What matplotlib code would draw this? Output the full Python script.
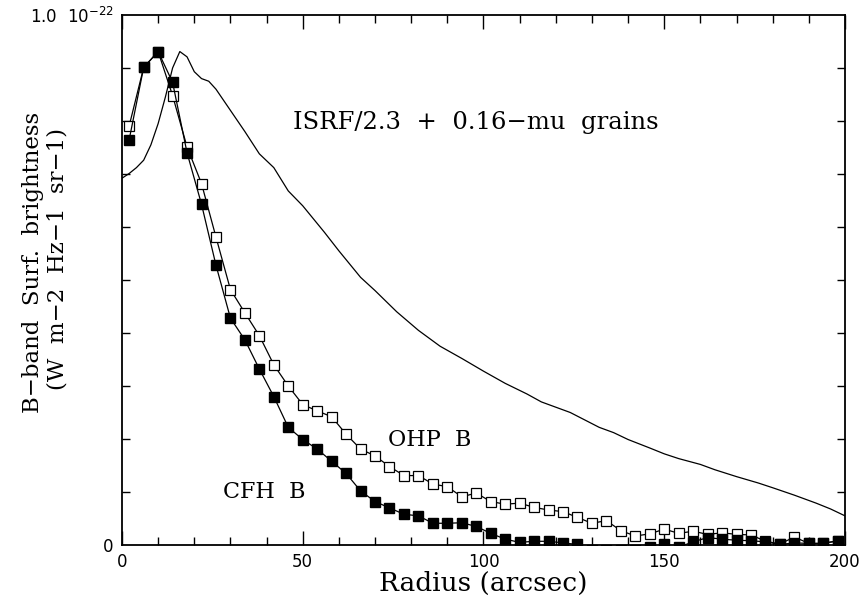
import matplotlib
matplotlib.use("Agg")
import matplotlib.pyplot as plt
from matplotlib.ticker import MultipleLocator

# radius (arcsec) and B-band surface brightness in units of 1e-22 W m-2 Hz-1 sr-1
radius = [2, 6, 10, 14, 18, 22, 26, 30, 34, 38, 42, 46, 50, 54, 58, 62, 66, 70, 74, 78,
          82, 86, 90, 94, 98, 102, 106, 110, 114, 118, 122, 126, 130, 134, 138, 142, 146,
          150, 154, 158, 162, 166, 170, 174, 178, 182, 186, 190, 194, 198]

cfh_b = [0.765, 0.901, 0.931, 0.873, 0.740, 0.643, 0.528, 0.428, 0.387, 0.332, 0.280,
         0.222, 0.199, 0.181, 0.158, 0.135, 0.102, 0.082, 0.070, 0.058, 0.055, 0.041,
         0.041, 0.042, 0.035, 0.022, 0.011, 0.005, 0.007, 0.007, 0.004, 0.001, -0.010,
         -0.010, -0.010, -0.010, -0.004, 0.001, -0.004, 0.006, 0.014, 0.011, 0.009,
         0.008, 0.006, 0.001, 0.004, 0.003, 0.003, 0.008]

ohp_b = [0.791, 0.901, 0.931, 0.848, 0.751, 0.682, 0.581, 0.482, 0.438, 0.395, 0.340,
         0.300, 0.265, 0.253, 0.242, 0.209, 0.181, 0.168, 0.148, 0.131, 0.131, 0.115,
         0.110, 0.091, 0.098, 0.082, 0.077, 0.079, 0.071, 0.066, 0.063, 0.052, 0.041,
         0.046, 0.027, 0.017, 0.021, 0.030, 0.022, 0.026, 0.020, 0.023, 0.020, 0.019,
         0.007, 0.002, 0.015, 0.003, 0.003, 0.008]

# model: ISRF/2.3 + 0.16-mu grains
model_r = [0, 2, 4, 6, 8, 10, 12, 14, 16, 18, 20, 22, 24, 26, 28, 30, 34, 38, 42, 46,
           50, 56, 60, 66, 70, 76, 82, 88, 94, 100, 106, 112, 116, 120, 124, 128, 132,
           136, 140, 146, 150, 154, 160, 164, 170, 176, 180, 186, 192, 196, 200]
model_b = [0.692, 0.701, 0.712, 0.726, 0.755, 0.795, 0.845, 0.900, 0.931, 0.921, 0.893,
           0.880, 0.875, 0.860, 0.840, 0.820, 0.780, 0.738, 0.712, 0.668, 0.640, 0.590,
           0.555, 0.505, 0.480, 0.440, 0.405, 0.375, 0.352, 0.328, 0.305, 0.285, 0.270,
           0.260, 0.250, 0.236, 0.222, 0.212, 0.199, 0.183, 0.172, 0.163, 0.152, 0.142,
           0.129, 0.117, 0.108, 0.094, 0.079, 0.068, 0.055]

serif = "DejaVu Serif"
W, H = 862, 597

fig = plt.figure(figsize=(8.62, 5.97), dpi=100)
ax = fig.add_axes([0.1415, 0.0871, 0.8388, 0.8878])

ax.plot(model_r, model_b, color="black", lw=0.9)
ax.plot(radius, ohp_b, color="black", lw=0.9, marker="s", ms=7.5,
        mfc="white", mec="black", mew=0.9)
ax.plot(radius, cfh_b, color="black", lw=0.9, marker="s", ms=7.5,
        mfc="black", mec="black")

ax.text(47.3, 0.798, "ISRF/2.3  +  0.16\u2212mu  grains", family=serif,
        fontsize=17.5, va="center", ha="left")
ax.text(73.6, 0.198, "OHP  B", family=serif, fontsize=16, va="center")
ax.text(27.9, 0.100, "CFH  B", family=serif, fontsize=16, va="center")

ax.set_xlim(0, 200)
ax.set_ylim(0, 1.0)
ax.xaxis.set_major_locator(MultipleLocator(50))
ax.xaxis.set_minor_locator(MultipleLocator(10))
ax.set_yticks([0, 1.0])
ax.set_yticklabels(["0", "1.0  $10^{-22}$"])
ax.yaxis.set_minor_locator(MultipleLocator(0.1))
ax.tick_params(which="both", direction="in", top=True, right=True, labelsize=12,
               width=1)
ax.tick_params(which="major", axis="x", length=10, pad=6)
ax.tick_params(which="minor", length=6)
ax.tick_params(which="major", axis="y", length=0, pad=6)
for s in ax.spines.values():
    s.set_linewidth(1.3)

ax.set_xlabel("Radius (arcsec)", family=serif, fontsize=19, labelpad=0)

# two-line y label placed by hand
fig.text(33 / W, 1 - 262 / H, "B\u2212band  Surf.  brightness", family=serif,
         fontsize=16.5, rotation=90, ha="center", va="center")
fig.text(58 / W, 1 - 259 / H, "(W  m\u22122  Hz\u22121  sr\u22121)", family=serif,
         fontsize=16.5, rotation=90, ha="center", va="center")

fig.savefig("out.png", dpi=100)
